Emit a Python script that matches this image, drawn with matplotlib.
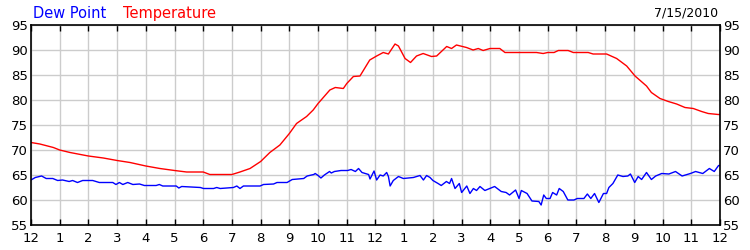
import matplotlib
matplotlib.use('Agg')
import matplotlib.pyplot as plt

# hours since midnight and readings (deg F)
temp_hours = [0, 0.31, 0.78, 1.0, 1.36, 2.0, 2.52, 3.0, 3.45, 4.0, 4.49, 5.0, 5.42, 6.0,
              6.23, 7.0, 7.28, 7.63, 8.0, 8.32, 8.67, 9.0, 9.25, 9.6, 9.83, 10.0, 10.41,
              10.6, 10.88, 11.0, 11.23, 11.46, 11.8, 12.04, 12.27, 12.45, 12.68, 12.8,
              13.03, 13.22, 13.43, 13.66, 13.95, 14.13, 14.48, 14.65, 14.82, 15.17, 15.4,
              15.58, 15.75, 15.99, 16.33, 16.51, 17.03, 17.61, 17.84, 18.0, 18.22, 18.37,
              18.71, 18.89, 19.41, 19.58, 20.05, 20.4, 20.75, 21.04, 21.44, 21.61, 21.91,
              22.2, 22.49, 22.78, 23.07, 23.36, 23.59, 23.94, 24.0]
temp_vals = [71.5, 71.2, 70.5, 70.0, 69.5, 68.8, 68.4, 67.9, 67.5, 66.8, 66.3, 65.9, 65.6, 65.6,
             65.1, 65.1, 65.6, 66.3, 67.7, 69.5, 71.0, 73.3, 75.3, 76.7, 78.0, 79.3, 82.0,
             82.5, 82.3, 83.3, 84.7, 84.8, 88.0, 88.8, 89.5, 89.2, 91.2, 90.8,
             88.3, 87.5, 88.8, 89.3, 88.7, 88.8, 90.7, 90.3, 91.0, 90.5, 90.0,
             90.3, 89.9, 90.3, 90.3, 89.5, 89.5, 89.5, 89.3, 89.5, 89.5, 89.9,
             89.9, 89.5, 89.5, 89.2, 89.2, 88.3, 86.8, 84.8, 82.8, 81.5, 80.3,
             79.7, 79.2, 78.5, 78.3, 77.7, 77.3, 77.1, 77.1]

dew_hours = [0, 0.15, 0.37, 0.53, 0.76, 0.93, 1.1, 1.33, 1.45, 1.62, 1.8, 2.15, 2.38, 2.85,
             2.96, 3.08, 3.2, 3.37, 3.55, 3.78, 3.95, 4.36, 4.47, 4.59, 5.06, 5.15, 5.25,
             5.9, 6.01, 6.36, 6.47, 6.59, 7.05, 7.17, 7.28, 7.4, 7.98, 8.1, 8.45, 8.57,
             8.92, 9.1, 9.5, 9.62, 9.85, 9.9, 10.0, 10.1, 10.22, 10.4, 10.46, 10.57, 10.8,
             11.03, 11.15, 11.3, 11.41, 11.53, 11.76, 11.81, 11.95, 12.04, 12.16, 12.27,
             12.39, 12.45, 12.51, 12.62, 12.8, 12.97, 13.32, 13.55, 13.67, 13.78, 13.9,
             14.0, 14.18, 14.29, 14.47, 14.58, 14.65, 14.77, 14.92, 15.0, 15.18, 15.29,
             15.41, 15.52, 15.64, 15.81, 16.15, 16.38, 16.55, 16.67, 16.88, 17.0, 17.08,
             17.28, 17.45, 17.69, 17.77, 17.86, 17.95, 18.08, 18.17, 18.31, 18.4, 18.54,
             18.7, 18.91, 19.03, 19.26, 19.38, 19.5, 19.63, 19.78, 19.94, 20.05, 20.13,
             20.27, 20.44, 20.62, 20.79, 20.88, 21.03, 21.15, 21.27, 21.44, 21.61, 21.76,
             21.97, 22.22, 22.45, 22.68, 22.97, 23.15, 23.4, 23.63, 23.8, 23.95, 24.0]
dew_vals = [64.0, 64.5, 64.8, 64.3, 64.3, 63.9, 64.0, 63.7, 63.9, 63.5, 63.9, 63.9, 63.5, 63.5,
            63.1, 63.5, 63.1, 63.5, 63.1, 63.2, 62.9, 62.9, 63.1, 62.8, 62.8, 62.4, 62.7,
            62.5, 62.3, 62.3, 62.5, 62.3, 62.5, 62.8, 62.3, 62.8, 62.8, 63.1, 63.2, 63.5,
            63.5, 64.1, 64.3, 64.8, 65.1, 65.3, 64.9, 64.4, 65.0, 65.7, 65.4, 65.7, 65.9,
            65.9, 66.1, 65.7, 66.3, 65.5, 65.1, 64.2, 65.8, 64.0, 65.0, 64.8,
            65.5, 64.7, 62.8, 63.9, 64.7, 64.3, 64.5, 64.9, 64.0, 64.9, 64.5,
            63.9, 63.3, 62.9, 63.7, 63.3, 64.3, 62.3, 63.3, 61.5, 62.8, 61.3,
            62.3, 61.9, 62.7, 61.9, 62.7, 61.7, 61.5, 61.0, 62.0, 60.3, 61.9,
            61.3, 59.8, 59.7, 59.0, 61.0, 60.3, 60.3, 61.5, 61.0, 62.3, 61.7,
            60.0, 60.0, 60.3, 60.3, 61.2, 60.3, 61.3, 59.5, 61.3, 61.3, 62.5,
            63.3, 65.0, 64.7, 64.8, 65.2, 63.5, 64.7, 64.1, 65.5, 64.1, 64.8,
            65.3, 65.2, 65.7, 64.8, 65.3, 65.7, 65.3, 66.3, 65.7, 66.9, 66.9]

hour_labels = ['12', '1', '2', '3', '4', '5', '6', '7', '8', '9', '10', '11'] * 2 + ['12']
y_ticks = [55, 60, 65, 70, 75, 80, 85, 90, 95]

plt.rcParams['font.family'] = ['DejaVu Sans']
fig = plt.figure(figsize=(7.5, 2.5), dpi=100)
ax = fig.add_axes([0.0413, 0.1, 0.9187, 0.8])

ax.plot(temp_hours, temp_vals, color='#ff0000', lw=1)
ax.plot(dew_hours, dew_vals, color='#0000ff', lw=1)

ax.set_xlim(0, 24)
ax.set_ylim(55, 95)
ax.set_xticks(range(25))
ax.set_xticklabels(hour_labels, fontsize=9.5)
ax.set_yticks(y_ticks)
ax.set_yticklabels([str(v) for v in y_ticks], fontsize=9.5)
ax.grid(True, color='#cccccc', lw=1)
ax.set_axisbelow(True)
ax.tick_params(axis='x', direction='in', length=4, top=True, pad=5, width=1)
ax.tick_params(axis='y', direction='in', length=0, left=True, right=True,
               labelleft=True, labelright=True, pad=2)
for s in ax.spines.values():
    s.set_linewidth(1.2)

fig.text(0.044, 0.945, 'Dew Point', color='#0000ff', fontsize=10.5, va='center', ha='left')
fig.text(0.164, 0.945, 'Temperature', color='#ff0000', fontsize=10.5, va='center', ha='left')
fig.text(0.957, 0.95, '7/15/2010', color='black', fontsize=9, va='center', ha='right')

fig.savefig('out.png', dpi=100)
